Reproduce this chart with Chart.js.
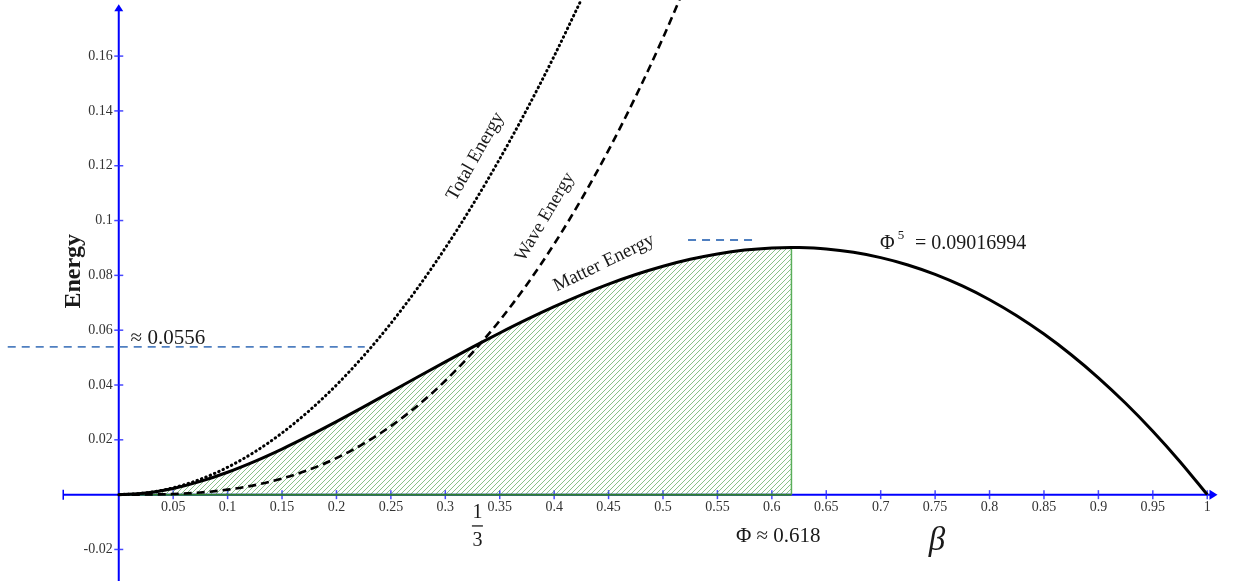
<!DOCTYPE html>
<html><head><meta charset="utf-8">
<script src="https://cdn.jsdelivr.net/npm/chart.js@4.4.1/dist/chart.umd.min.js"></script>
<style>html,body{margin:0;padding:0;background:#fff;overflow:hidden}#wrap{width:1235px;height:581px}</style>
</head><body><div id="wrap"><canvas id="c" width="1235" height="581"></canvas></div>
<script>
// ---- data ----
const matterBeta = [0,0.025,0.05,0.075,0.1,0.125,0.15,0.175,0.2,0.225,0.25,0.275,0.3,0.325,0.3333,0.35,0.375,0.4,0.425,0.45,0.475,0.5,0.525,0.55,0.575,0.6,0.618,0.625,0.65,0.675,0.7,0.725,0.75,0.775,0.8,0.825,0.85,0.875,0.9,0.925,0.95,0.975,1];
const matterEnergy = [0,0.000595,0.002262,0.004840,0.008182,0.012153,0.016630,0.021503,0.026667,0.032028,0.0375,0.043003,0.048462,0.053809,0.055556,0.058981,0.063920,0.068571,0.072884,0.076810,0.080308,0.083333,0.085850,0.087823,0.089216,0.09,0.090170,0.090144,0.089621,0.088405,0.086471,0.083795,0.080357,0.076136,0.071111,0.065265,0.058581,0.051042,0.042632,0.033336,0.023141,0.012033,0];
const waveBeta = [0,0.025,0.05,0.075,0.1,0.125,0.15,0.175,0.2,0.225,0.25,0.275,0.3,0.325,0.3333,0.35,0.375,0.4,0.425,0.45,0.475,0.5,0.525];
const waveEnergy = [0,0.000030,0.000238,0.000785,0.001818,0.003472,0.005870,0.009122,0.013333,0.018597,0.025,0.032623,0.041538,0.051816,0.055556,0.063519,0.076705,0.091429,0.107742,0.125690,0.145318,0.166667,0.189775];
const totalBeta = [0,0.025,0.05,0.075,0.1,0.125,0.15,0.175,0.2,0.225,0.25,0.275,0.3,0.325,0.35,0.375,0.4,0.425];
const totalEnergy = [0,0.000625,0.0025,0.005625,0.01,0.015625,0.0225,0.030625,0.04,0.050625,0.0625,0.075625,0.09,0.105625,0.1225,0.140625,0.16,0.180625];
const phi = 0.618;
const baseX = [0, 0.618];
const baseY = [0, 0];
const refLine1X = [-0.102, 0.226];
const refLine1Y = [0.0539, 0.0539];
const refLine2X = [0.523, 0.584];
const refLine2Y = [0.0929, 0.0929];
const xTickValues = [0.05,0.1,0.15,0.2,0.25,0.3,0.35,0.4,0.45,0.5,0.55,0.6,0.65,0.7,0.75,0.8,0.85,0.9,0.95,1];
const yTickValues = [-0.02,0.02,0.04,0.06,0.08,0.1,0.12,0.14,0.16];

const SERIF = "'Liberation Serif','Times New Roman',serif";
const zip = (xs, ys) => xs.map((x, i) => ({x, y: ys[i]}));

function hatchPattern() {
  const s = 5, c = document.createElement('canvas');
  c.width = s; c.height = s;
  const g = c.getContext('2d');
  g.strokeStyle = 'rgba(80,165,80,0.8)';
  g.lineWidth = 0.85;
  g.beginPath();
  g.moveTo(0, s); g.lineTo(s, 0);
  g.moveTo(-1, 1); g.lineTo(1, -1);
  g.moveTo(s - 1, s + 1); g.lineTo(s + 1, s - 1);
  g.stroke();
  return g.createPattern(c, 'repeat');
}

const fillPts = zip(matterBeta, matterEnergy).filter(p => p.x <= phi);
fillPts.push({x: phi, y: 0});

const axesPlugin = {
  id: 'axesDeco',
  beforeDatasetsDraw(chart) {
    const {ctx, scales: {x, y}} = chart;
    const x0 = x.getPixelForValue(0), y0 = y.getPixelForValue(0);
    ctx.save();
    ctx.strokeStyle = '#0000ff'; ctx.fillStyle = '#0000ff'; ctx.lineWidth = 2;
    // x axis
    const xl = x.getPixelForValue(-0.051), xr = x.getPixelForValue(1.003);
    ctx.beginPath(); ctx.moveTo(xl, y0); ctx.lineTo(xr, y0); ctx.stroke();
    ctx.beginPath(); ctx.moveTo(xr + 7, y0); ctx.lineTo(xr - 1, y0 - 5); ctx.lineTo(xr - 1, y0 + 5); ctx.closePath(); ctx.fill();
    ctx.lineWidth = 1.5;
    ctx.beginPath(); ctx.moveTo(xl, y0 - 5); ctx.lineTo(xl, y0 + 5); ctx.stroke();
    // y axis
    const yt = y.getPixelForValue(0.1775), yb = chart.height;
    ctx.lineWidth = 2;
    ctx.beginPath(); ctx.moveTo(x0, yb); ctx.lineTo(x0, yt); ctx.stroke();
    ctx.beginPath(); ctx.moveTo(x0, yt - 4); ctx.lineTo(x0 - 4.5, yt + 3); ctx.lineTo(x0 + 4.5, yt + 3); ctx.closePath(); ctx.fill();
    // tick marks
    ctx.strokeStyle = 'rgba(40,40,255,0.85)'; ctx.lineWidth = 1.5;
    xTickValues.forEach(v => { const px = x.getPixelForValue(v); ctx.beginPath(); ctx.moveTo(px, y0 - 4.5); ctx.lineTo(px, y0 + 4.5); ctx.stroke(); });
    yTickValues.forEach(v => { const py = y.getPixelForValue(v); ctx.beginPath(); ctx.moveTo(x0 - 4.5, py); ctx.lineTo(x0 + 4.5, py); ctx.stroke(); });
    ctx.restore();
  },
  afterDatasetsDraw(chart) {
    const {ctx, scales: {x, y}} = chart;
    const P = (a, b) => [x.getPixelForValue(a), y.getPixelForValue(b)];
    ctx.save();
    ctx.fillStyle = '#1a1a1a';
    const text = (s, a, b, font, align = 'left', rot = 0) => {
      const [px, py] = P(a, b);
      ctx.save(); ctx.translate(px, py); ctx.rotate(rot * Math.PI / 180);
      ctx.font = font; ctx.textAlign = align; ctx.textBaseline = 'middle';
      ctx.fillText(s, 0, 0); ctx.restore();
    };
    text('Energy', -0.0412, 0.0815, `bold 24px ${SERIF}`, 'center', -90);
    text('\u2248 0.0556', 0.0109, 0.0570, `21px ${SERIF}`);
    // Phi^5 label
    text('\u03A6', 0.6993, 0.0917, `20px ${SERIF}`);
    text('5', 0.7157, 0.0945, `13px ${SERIF}`);
    text('= 0.09016994', 0.7314, 0.0917, `20px ${SERIF}`);
    text('\u03A6 \u2248 0.618', 0.5670, -0.0153, `21px ${SERIF}`);
    text('\u03B2', 0.7517, -0.0172, `italic 33px ${SERIF}`, 'center');
    // 1/3 fraction
    text('1', 0.3295, -0.0067, `20px ${SERIF}`, 'center');
    text('3', 0.3295, -0.0167, `20px ${SERIF}`, 'center');
    const [fx, fy] = P(0.3295, -0.0114);
    ctx.fillRect(fx - 5.5, fy - 0.6, 11, 1.3);
    text('Total Energy', 0.3277, 0.1234, `19px ${SERIF}`, 'center', -60.4);
    text('Wave Energy', 0.3916, 0.1013, `18.5px ${SERIF}`, 'center', -59.5);
    text('Matter Energy', 0.4458, 0.0845, `19px ${SERIF}`, 'center', -26);
    ctx.restore();
  }
};

new Chart(document.getElementById('c'), {
  type: 'line',
  data: {
    datasets: [
      { label: 'Matter Energy', data: zip(matterBeta, matterEnergy), borderColor: '#000', borderWidth: 3, pointRadius: 0, cubicInterpolationMode: 'monotone', fill: false, order: 0 },
      { label: 'Wave Energy', data: zip(waveBeta, waveEnergy), borderColor: '#000', borderWidth: 2.6, borderDash: [8, 5], pointRadius: 0, cubicInterpolationMode: 'monotone', fill: false, order: 1 },
      { label: 'Total Energy', data: zip(totalBeta, totalEnergy), borderColor: '#000', borderWidth: 3, borderDash: [0.5, 4.2], borderCapStyle: 'round', pointRadius: 0, cubicInterpolationMode: 'monotone', fill: false, order: 2 },
      { label: 'ref1', data: zip(refLine1X, refLine1Y), borderColor: '#4f7fc0', borderWidth: 1.8, borderDash: [8, 6], pointRadius: 0, fill: false, order: 3 },
      { label: 'ref2', data: zip(refLine2X, refLine2Y), borderColor: '#4f7fc0', borderWidth: 1.8, borderDash: [8, 6], pointRadius: 0, fill: false, order: 3 },
      { label: 'base', data: zip(baseX, baseY), borderColor: '#2f7f2f', borderWidth: 2, pointRadius: 0, fill: false, order: 4 },
      { label: 'area', data: fillPts, borderColor: '#5aae5a', borderWidth: 1.5, backgroundColor: hatchPattern(), pointRadius: 0, tension: 0, fill: 'origin', order: 5 }
    ]
  },
  options: {
    responsive: false, animation: false, devicePixelRatio: 1,
    layout: { padding: 0 },
    plugins: { legend: { display: false }, tooltip: { enabled: false }, title: { display: false } },
    scales: {
      x: {
        type: 'linear', min: -0.1091, max: 1.0255, position: { y: 0 },
        grid: { display: false, drawTicks: false }, border: { display: false },
        afterBuildTicks: s => { s.ticks = xTickValues.map(v => ({ value: v })); },
        ticks: { autoSkip: false, maxRotation: 0, padding: 4, color: '#333', font: { family: SERIF, size: 14 }, callback: v => String(v) }
      },
      y: {
        type: 'linear', min: -0.03148, max: 0.18044, position: { x: -0.0055 },
        grid: { display: false, drawTicks: false }, border: { display: false },
        afterBuildTicks: s => { s.ticks = yTickValues.map(v => ({ value: v })); },
        ticks: { autoSkip: false, padding: 0, color: '#333', font: { family: SERIF, size: 14, lineHeight: 0.01 }, callback: v => String(v) }
      }
    }
  },
  plugins: [axesPlugin]
});
</script></body></html>
